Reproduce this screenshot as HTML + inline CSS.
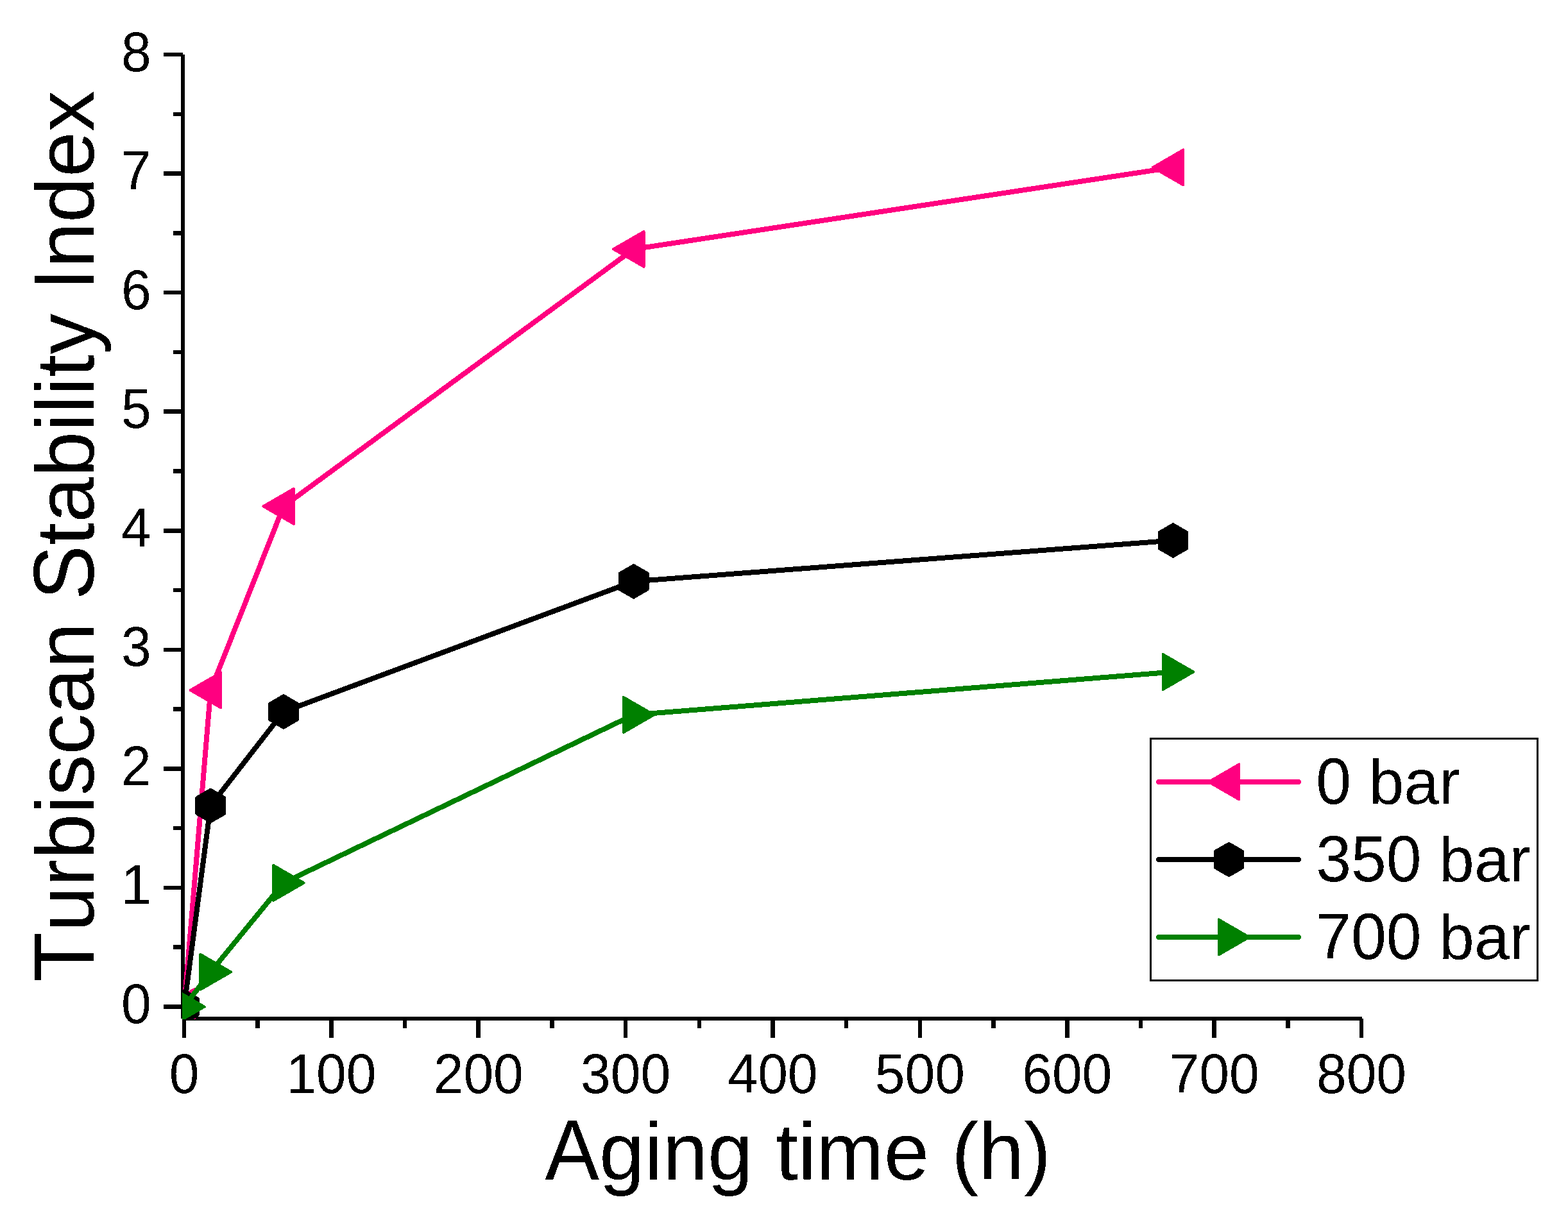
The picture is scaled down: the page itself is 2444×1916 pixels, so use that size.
<!DOCTYPE html><html><head><meta charset="utf-8"><title>Turbiscan Stability Index vs Aging time</title><style>html,body{margin:0;padding:0;background:#fff;}svg{display:block;}</style></head><body>
<svg width="2444" height="1916" viewBox="0 0 2444 1916" style="font-kerning:none">
<rect x="0" y="0" width="2444" height="1916" fill="#fff"/>
<defs><filter id="bin" filterUnits="userSpaceOnUse" x="0" y="0" width="2444" height="1916" color-interpolation-filters="sRGB"><feComponentTransfer><feFuncA type="discrete" tableValues="0 1"/></feComponentTransfer></filter></defs>
<g fill="#000" shape-rendering="crispEdges">
<rect x="282" y="85" width="6" height="1503"/>
<rect x="285" y="1585" width="1838" height="6"/>
<rect x="255" y="1566" width="30" height="7"/>
<rect x="270" y="1473" width="15" height="7"/>
<rect x="255" y="1381" width="30" height="6"/>
<rect x="270" y="1288" width="15" height="6"/>
<rect x="255" y="1195" width="30" height="7"/>
<rect x="270" y="1102" width="15" height="7"/>
<rect x="255" y="1010" width="30" height="6"/>
<rect x="270" y="917" width="15" height="6"/>
<rect x="255" y="824" width="30" height="7"/>
<rect x="270" y="731" width="15" height="7"/>
<rect x="255" y="638" width="30" height="7"/>
<rect x="270" y="546" width="15" height="6"/>
<rect x="255" y="453" width="30" height="6"/>
<rect x="270" y="360" width="15" height="7"/>
<rect x="255" y="267" width="30" height="7"/>
<rect x="270" y="175" width="15" height="6"/>
<rect x="255" y="82" width="30" height="6"/>
<rect x="284" y="1588" width="6" height="30"/>
<rect x="398" y="1588" width="7" height="15"/>
<rect x="513" y="1588" width="7" height="30"/>
<rect x="628" y="1588" width="6" height="15"/>
<rect x="742" y="1588" width="7" height="30"/>
<rect x="857" y="1588" width="7" height="15"/>
<rect x="972" y="1588" width="6" height="30"/>
<rect x="1087" y="1588" width="6" height="15"/>
<rect x="1201" y="1588" width="7" height="30"/>
<rect x="1316" y="1588" width="6" height="15"/>
<rect x="1431" y="1588" width="6" height="30"/>
<rect x="1545" y="1588" width="7" height="15"/>
<rect x="1660" y="1588" width="7" height="30"/>
<rect x="1775" y="1588" width="6" height="15"/>
<rect x="1889" y="1588" width="7" height="30"/>
<rect x="2004" y="1588" width="7" height="15"/>
<rect x="2119" y="1588" width="6" height="30"/>
</g>
<g font-family="Liberation Sans, Arial, sans-serif" font-size="84" fill="#000" filter="url(#bin)">
<text transform="translate(235.8,1595.00) scale(1,1.04)" text-anchor="end">0</text>
<text transform="translate(235.8,1409.44) scale(1,1.04)" text-anchor="end">1</text>
<text transform="translate(235.8,1223.88) scale(1,1.04)" text-anchor="end">2</text>
<text transform="translate(235.8,1038.31) scale(1,1.04)" text-anchor="end">3</text>
<text transform="translate(235.8,852.75) scale(1,1.04)" text-anchor="end">4</text>
<text transform="translate(235.8,667.19) scale(1,1.04)" text-anchor="end">5</text>
<text transform="translate(235.8,481.62) scale(1,1.04)" text-anchor="end">6</text>
<text transform="translate(235.8,296.06) scale(1,1.04)" text-anchor="end">7</text>
<text transform="translate(235.8,110.50) scale(1,1.04)" text-anchor="end">8</text>
<text transform="translate(287.00,1704) scale(1,1.04)" text-anchor="middle">0</text>
<text transform="translate(516.38,1704) scale(1,1.04)" text-anchor="middle">100</text>
<text transform="translate(745.75,1704) scale(1,1.04)" text-anchor="middle">200</text>
<text transform="translate(975.12,1704) scale(1,1.04)" text-anchor="middle">300</text>
<text transform="translate(1204.50,1704) scale(1,1.04)" text-anchor="middle">400</text>
<text transform="translate(1433.88,1704) scale(1,1.04)" text-anchor="middle">500</text>
<text transform="translate(1663.25,1704) scale(1,1.04)" text-anchor="middle">600</text>
<text transform="translate(1892.63,1704) scale(1,1.04)" text-anchor="middle">700</text>
<text transform="translate(2122.00,1704) scale(1,1.04)" text-anchor="middle">800</text>
</g>
<g font-family="Liberation Sans, Arial, sans-serif" font-size="127.55" fill="#000" filter="url(#bin)">
<text font-size="126.7" transform="translate(849.55,1839)"><tspan font-size="133.6" textLength="84.508" lengthAdjust="spacingAndGlyphs">A</tspan>ging time (h)</text>
<text transform="translate(146,1530.7) rotate(-90)"><tspan font-size="133.7" textLength="77.913" lengthAdjust="spacingAndGlyphs">T</tspan>urbiscan <tspan font-size="133.7" textLength="85.075" lengthAdjust="spacingAndGlyphs">S</tspan>tability <tspan font-size="133.7" textLength="35.437" lengthAdjust="spacingAndGlyphs">I</tspan>ndex</text>
</g>
<defs><clipPath id="plot"><rect x="284" y="0" width="2160" height="1589"/></clipPath></defs>
<g clip-path="url(#plot)" shape-rendering="crispEdges">
<polyline points="287.00,1569.50 328.30,1076.00 442.00,789.30 987.70,388.40 1828.50,261.00" fill="none" stroke="#FF0080" stroke-width="8" stroke-linejoin="round" stroke-linecap="round"/>
<polygon points="255.30,1569.50 302.85,1542.05 302.85,1596.95" fill="#FF0080" stroke="#FF0080" stroke-width="4" stroke-linejoin="round"/>
<polygon points="296.60,1076.00 344.15,1048.55 344.15,1103.45" fill="#FF0080" stroke="#FF0080" stroke-width="4" stroke-linejoin="round"/>
<polygon points="410.30,789.30 457.85,761.85 457.85,816.75" fill="#FF0080" stroke="#FF0080" stroke-width="4" stroke-linejoin="round"/>
<polygon points="956.00,388.40 1003.55,360.95 1003.55,415.85" fill="#FF0080" stroke="#FF0080" stroke-width="4" stroke-linejoin="round"/>
<polygon points="1796.80,261.00 1844.35,233.55 1844.35,288.45" fill="#FF0080" stroke="#FF0080" stroke-width="4" stroke-linejoin="round"/>
<polyline points="287.00,1569.50 328.30,1256.00 442.00,1109.50 987.70,906.40 1828.50,842.50" fill="none" stroke="#000000" stroke-width="8" stroke-linejoin="round" stroke-linecap="round"/>
<polygon points="287.00,1544.20 308.91,1556.85 308.91,1582.15 287.00,1594.80 265.09,1582.15 265.09,1556.85" fill="#000000" stroke="#000000" stroke-width="4" stroke-linejoin="round"/>
<polygon points="328.30,1230.70 350.21,1243.35 350.21,1268.65 328.30,1281.30 306.39,1268.65 306.39,1243.35" fill="#000000" stroke="#000000" stroke-width="4" stroke-linejoin="round"/>
<polygon points="442.00,1084.20 463.91,1096.85 463.91,1122.15 442.00,1134.80 420.09,1122.15 420.09,1096.85" fill="#000000" stroke="#000000" stroke-width="4" stroke-linejoin="round"/>
<polygon points="987.70,881.10 1009.61,893.75 1009.61,919.05 987.70,931.70 965.79,919.05 965.79,893.75" fill="#000000" stroke="#000000" stroke-width="4" stroke-linejoin="round"/>
<polygon points="1828.50,817.20 1850.41,829.85 1850.41,855.15 1828.50,867.80 1806.59,855.15 1806.59,829.85" fill="#000000" stroke="#000000" stroke-width="4" stroke-linejoin="round"/>
<polyline points="287.00,1569.50 328.30,1515.30 442.00,1376.40 987.70,1114.40 1828.50,1047.50" fill="none" stroke="#008000" stroke-width="8" stroke-linejoin="round" stroke-linecap="round"/>
<polygon points="318.70,1569.50 271.15,1542.05 271.15,1596.95" fill="#008000" stroke="#008000" stroke-width="4" stroke-linejoin="round"/>
<polygon points="360.00,1515.30 312.45,1487.85 312.45,1542.75" fill="#008000" stroke="#008000" stroke-width="4" stroke-linejoin="round"/>
<polygon points="473.70,1376.40 426.15,1348.95 426.15,1403.85" fill="#008000" stroke="#008000" stroke-width="4" stroke-linejoin="round"/>
<polygon points="1019.40,1114.40 971.85,1086.95 971.85,1141.85" fill="#008000" stroke="#008000" stroke-width="4" stroke-linejoin="round"/>
<polygon points="1860.20,1047.50 1812.65,1020.05 1812.65,1074.95" fill="#008000" stroke="#008000" stroke-width="4" stroke-linejoin="round"/>
</g>
<rect x="1793.5" y="1151.5" width="603" height="377" fill="none" stroke="#000" stroke-width="3" shape-rendering="crispEdges"/>
<line x1="1806" y1="1219" x2="2024" y2="1219" stroke="#FF0080" stroke-width="8" stroke-linecap="round" shape-rendering="crispEdges"/>
<polygon points="1883.80,1219.00 1931.35,1191.55 1931.35,1246.45" fill="#FF0080" stroke="#FF0080" stroke-width="4" stroke-linejoin="round" shape-rendering="crispEdges"/>
<g filter="url(#bin)"><text font-family="Liberation Sans, Arial, sans-serif" font-size="98.6" fill="#000" transform="translate(2051.2,1252.9)"><tspan font-size="101.66" textLength="54.837" lengthAdjust="spacingAndGlyphs">0</tspan> bar</text></g>
<line x1="1806" y1="1340" x2="2024" y2="1340" stroke="#000000" stroke-width="8" stroke-linecap="round" shape-rendering="crispEdges"/>
<polygon points="1915.50,1314.70 1937.41,1327.35 1937.41,1352.65 1915.50,1365.30 1893.59,1352.65 1893.59,1327.35" fill="#000000" stroke="#000000" stroke-width="4" stroke-linejoin="round" shape-rendering="crispEdges"/>
<g filter="url(#bin)"><text font-family="Liberation Sans, Arial, sans-serif" font-size="98.6" fill="#000" transform="translate(2051.2,1373.9)"><tspan font-size="101.66" textLength="164.510" lengthAdjust="spacingAndGlyphs">350</tspan> bar</text></g>
<line x1="1806" y1="1461" x2="2024" y2="1461" stroke="#008000" stroke-width="8" stroke-linecap="round" shape-rendering="crispEdges"/>
<polygon points="1947.20,1461.00 1899.65,1433.55 1899.65,1488.45" fill="#008000" stroke="#008000" stroke-width="4" stroke-linejoin="round" shape-rendering="crispEdges"/>
<g filter="url(#bin)"><text font-family="Liberation Sans, Arial, sans-serif" font-size="98.6" fill="#000" transform="translate(2051.2,1494.9)"><tspan font-size="101.66" textLength="164.510" lengthAdjust="spacingAndGlyphs">700</tspan> bar</text></g>
</svg></body></html>
